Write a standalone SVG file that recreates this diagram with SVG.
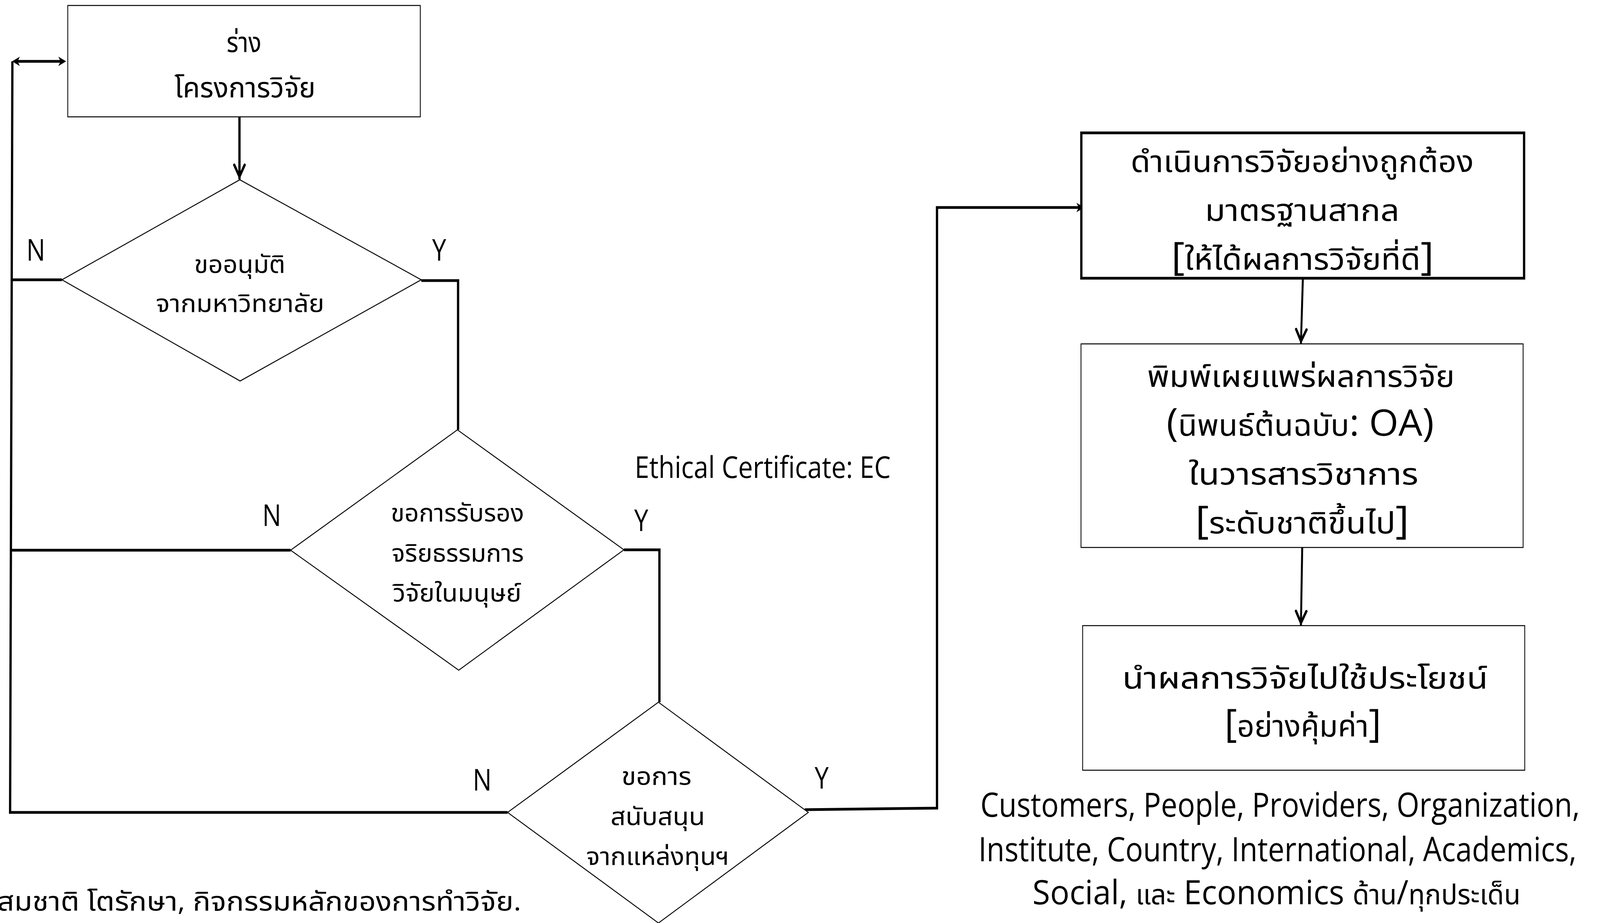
<svg xmlns="http://www.w3.org/2000/svg" width="4911" height="2362" viewBox="0 0 4911 2362" preserveAspectRatio="none">
<style>
svg:root { width: 100vw; height: 100vh; display: block; }
text { font-family: "Open Sans", "Noto Sans Thai", "Leelawadee UI", "Noto Sans", sans-serif; fill: #000; }
.c { text-anchor: middle; }
.thin { fill: #fff; stroke: #000; stroke-width: 2.5; }
.thick { fill: #fff; stroke: #000; stroke-width: 7; }
.conn { fill: none; stroke: #000; stroke-width: 7; }
.conn2 { fill: none; stroke: #000; stroke-width: 6; }
.d { font-size: 62px; }
.t { font-size: 72px; }
.b { font-size: 77px; }
.br { font-size: 98px; }
.lat { font-size: 94px; }
.lbl { font-size: 77px; }
.s { font-size: 86px; }
.sth { font-size: 72px; }
</style>
<defs>
<marker id="stealth" markerUnits="userSpaceOnUse" viewBox="0 0 24 24" refX="16" refY="12" markerWidth="24" markerHeight="24" orient="auto-start-reverse" overflow="visible">
<path d="M0,0 L24,12 L0,24 L7,12 Z" fill="#000"/>
</marker>
<marker id="chev" markerUnits="userSpaceOnUse" viewBox="-40 -25 60 50" refX="7" refY="0" markerWidth="60" markerHeight="50" orient="auto" overflow="visible">
<path d="M-30,-16 L0,0 L-30,16" fill="none" stroke="#000" stroke-width="7" stroke-linecap="round"/>
</marker>
</defs>
<rect width="4911" height="2362" fill="#fff"/>

<g id="connectors">
<path class="conn" d="M45 157 H195" marker-start="url(#stealth)" marker-end="url(#stealth)"/>
<path class="conn" d="M1558 2079 H31 L38 157"/>
<path class="conn" d="M190 716 H38"/>
<path class="conn" d="M892 1408 H35"/>
<path class="conn" d="M735 299 V459" marker-end="url(#chev)"/>
<path class="conn" d="M1293 718 H1406 V1100"/>
<path class="conn" d="M1915 1407 H2024 V1797"/>
<path class="conn" d="M2470 2072 L2876 2068 V531 H3320" marker-end="url(#stealth)"/>
<path class="conn2" d="M3999 712 L3993 880" marker-end="url(#chev)"/>
<path class="conn2" d="M3997 1401 L3993 1601" marker-end="url(#chev)"/>
</g>

<g id="draft">
<rect class="thin" x="208" y="14" width="1082" height="285"/>
<text class="c t" x="749" y="133" textLength="107" lengthAdjust="spacingAndGlyphs">ร่าง</text>
<text class="c t" x="752" y="249" textLength="433" lengthAdjust="spacingAndGlyphs">โครงการวิจัย</text>
</g>

<g id="approve">
<polygon class="thin" points="736,460 1293,716 737,975 190,716"/>
<text class="c d" x="736" y="698" textLength="280" lengthAdjust="spacingAndGlyphs">ขออนุมัติ</text>
<text class="c d" x="737" y="798" textLength="517" lengthAdjust="spacingAndGlyphs">จากมหาวิทยาลัย</text>
<text class="c lbl" x="110" y="667">N</text>
<text class="c lbl" x="1348" y="667">Y</text>
</g>

<g id="ethics">
<polygon class="thin" points="1404,1100 1915,1407 1408,1715 892,1408"/>
<text class="c d" x="1404" y="1334" textLength="409" lengthAdjust="spacingAndGlyphs">ขอการรับรอง</text>
<text class="c d" x="1405" y="1437" textLength="406" lengthAdjust="spacingAndGlyphs">จริยธรรมการ</text>
<text class="c d" x="1403" y="1539" textLength="395" lengthAdjust="spacingAndGlyphs">วิจัยในมนุษย์</text>
<text class="c lbl" x="834" y="1346">N</text>
<text class="c lbl" x="1968" y="1359">Y</text>
<text class="lbl" x="1948" y="1223" textLength="786" lengthAdjust="spacingAndGlyphs">Ethical Certificate: EC</text>
</g>

<g id="funding">
<polygon class="thin" points="2021,1797 2481,2079 2021,2362 1558,2079"/>
<text class="c d" x="2015" y="2008" textLength="215" lengthAdjust="spacingAndGlyphs">ขอการ</text>
<text class="c d" x="2019" y="2111" textLength="290" lengthAdjust="spacingAndGlyphs">สนับสนุน</text>
<text class="c d" x="2019" y="2213" textLength="439" lengthAdjust="spacingAndGlyphs">จากแหล่งทุนฯ</text>
<text class="c lbl" x="1480" y="2023">N</text>
<text class="c lbl" x="2522" y="2018">Y</text>
</g>

<g id="conduct">
<rect class="thick" x="3319" y="340" width="1359" height="372"/>
<text class="c b" x="3997" y="440" textLength="1053" lengthAdjust="spacingAndGlyphs">ดำเนินการวิจัยอย่างถูกต้อง</text>
<text class="c b" x="3997" y="565" textLength="597" lengthAdjust="spacingAndGlyphs">มาตรฐานสากล</text>
<text class="c b" x="3998" y="690" textLength="806" lengthAdjust="spacingAndGlyphs"><tspan class="br">[</tspan>ให้ได้ผลการวิจัยที่ดี<tspan class="br">]</tspan></text>
</g>

<g id="publish">
<rect class="thin" x="3318" y="880" width="1357" height="521"/>
<text class="c b" x="3993" y="990" textLength="944" lengthAdjust="spacingAndGlyphs">พิมพ์เผยแพร่ผลการวิจัย</text>
<text class="c b" x="3991" y="1115" textLength="821" lengthAdjust="spacingAndGlyphs"><tspan class="br">(</tspan>นิพนธ์ต้นฉบับ<tspan class="lat">: OA</tspan><tspan class="br">)</tspan></text>
<text class="c b" x="4001" y="1240" textLength="705" lengthAdjust="spacingAndGlyphs">ในวารสารวิชาการ</text>
<text class="c b" x="3997" y="1365" textLength="656" lengthAdjust="spacingAndGlyphs"><tspan class="br">[</tspan>ระดับชาติขึ้นไป<tspan class="br">]</tspan></text>
</g>

<g id="utilize">
<rect class="thin" x="3323" y="1601" width="1357" height="370"/>
<text class="c b" x="4006" y="1762" textLength="1122" lengthAdjust="spacingAndGlyphs">นำผลการวิจัยไปใช้ประโยชน์</text>
<text class="c b" x="3999" y="1885" textLength="481" lengthAdjust="spacingAndGlyphs"><tspan class="br">[</tspan>อย่างคุ้มค่า<tspan class="br">]</tspan></text>
</g>

<g id="stakeholders">
<text class="c s" x="3929" y="2090" textLength="1840" lengthAdjust="spacingAndGlyphs">Customers, People, Providers, Organization,</text>
<text class="c s" x="3921" y="2204" textLength="1836" lengthAdjust="spacingAndGlyphs">Institute, Country, International, Academics,</text>
<text class="c s" x="3918" y="2314" textLength="1498" lengthAdjust="spacingAndGlyphs">Social, <tspan class="sth">และ</tspan> Economics <tspan class="sth">ด้าน</tspan>/<tspan class="sth">ทุกประเด็น</tspan></text>
</g>

<g id="citation">
<text style="font-size:68px" x="-8" y="2330" textLength="1608" lengthAdjust="spacingAndGlyphs">สมชาติ โตรักษา, กิจกรรมหลักของการทำวิจัย.</text>
</g>
</svg>
